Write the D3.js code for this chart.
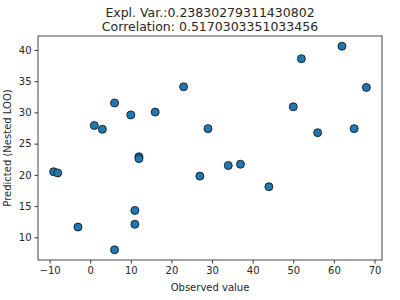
<!DOCTYPE html>
<html>
<head>
<meta charset="utf-8">
<script src="https://cdn.jsdelivr.net/npm/d3@7"></script>
<style>
  body { margin: 0; background: #fff; }
  text { font-family: "DejaVu Sans", sans-serif; fill: #262626; }
</style>
</head>
<body>
<div id="chart"></div>
<script>
const observed = [-9, -8, -3, 1, 3, 6, 6, 10, 11, 11, 12, 12, 16, 23, 27, 29, 34, 37, 44, 50, 52, 56, 62, 65, 68];
const predicted = [20.5, 20.3, 11.65, 27.9, 27.3, 31.5, 8.0, 29.6, 14.3, 12.1, 22.9, 22.6, 30.05, 34.1, 19.8, 27.4, 21.5, 21.7, 18.1, 30.9, 38.6, 26.75, 40.6, 27.4, 34.0];
const xTicks = [-10, 0, 10, 20, 30, 40, 50, 60, 70];
const yTicks = [10, 15, 20, 25, 30, 35, 40];
const titleLines = ["Expl. Var.:0.23830279311430802", "Correlation: 0.5170303351033456"];

const width = 400;
const height = 300;
const margin = { top: 36, right: 18, bottom: 40, left: 38 };

const points = observed.map((d, i) => ({ x: d, y: predicted[i] }));

const svg = d3.select("#chart")
  .append("svg")
  .attr("width", width)
  .attr("height", height);

// matplotlib style 5% padding
const xMin = d3.min(observed), xMax = d3.max(observed);
const yMin = d3.min(predicted), yMax = d3.max(predicted);
const xPad = (xMax - xMin) * 0.05, yPad = (yMax - yMin) * 0.05;

const x = d3.scaleLinear()
  .domain([xMin - xPad, xMax + xPad])
  .range([margin.left, width - margin.right]);

const y = d3.scaleLinear()
  .domain([yMin - yPad, yMax + yPad])
  .range([height - margin.bottom, margin.top]);

// X Axis
const gx = svg.append("g")
  .attr("transform", `translate(0,${height - margin.bottom})`)
  .call(d3.axisBottom(x).tickValues(xTicks).tickSize(3.5).tickPadding(3).tickFormat(d => d < 0 ? "\u2212" + Math.abs(d) : d));

// Y Axis
const gy = svg.append("g")
  .attr("transform", `translate(${margin.left},0)`)
  .call(d3.axisLeft(y).tickValues(yTicks).tickSize(3.5).tickPadding(3));

[gx, gy].forEach(g => {
  g.select(".domain").remove();
  g.selectAll("line").attr("stroke", "#333");
  g.selectAll("text").style("font-size", "10px").style("font-family", "DejaVu Sans, sans-serif").attr("fill", "#262626");
});

// Frame
svg.append("rect")
  .attr("x", margin.left)
  .attr("y", margin.top)
  .attr("width", width - margin.left - margin.right)
  .attr("height", height - margin.top - margin.bottom)
  .attr("fill", "none")
  .attr("stroke", "#333")
  .attr("stroke-width", 0.9);

// Points
svg.append("g")
  .selectAll("circle")
  .data(points)
  .join("circle")
  .attr("cx", d => x(d.x))
  .attr("cy", d => y(d.y))
  .attr("r", 4)
  .attr("fill", "#1f77b4")
  .attr("stroke", "#1a1a1a")
  .attr("stroke-width", 0.9);

// X Axis Label
svg.append("text")
  .attr("x", (margin.left + width - margin.right) / 2)
  .attr("y", 291)
  .attr("text-anchor", "middle")
  .style("font-size", "10px")
  .text("Observed value");

// Y Axis Label
svg.append("text")
  .attr("transform", "rotate(-90)")
  .attr("x", -(margin.top + height - margin.bottom) / 2)
  .attr("y", 11)
  .attr("text-anchor", "middle")
  .style("font-size", "10px")
  .text("Predicted (Nested LOO)");

// Title
svg.selectAll(".title")
  .data(titleLines)
  .join("text")
  .attr("class", "title")
  .attr("x", (margin.left + width - margin.right) / 2)
  .attr("y", (d, i) => 17 + i * 14)
  .attr("text-anchor", "middle")
  .style("font-size", "12.5px")
  .text(d => d);
</script>
</body>
</html>
